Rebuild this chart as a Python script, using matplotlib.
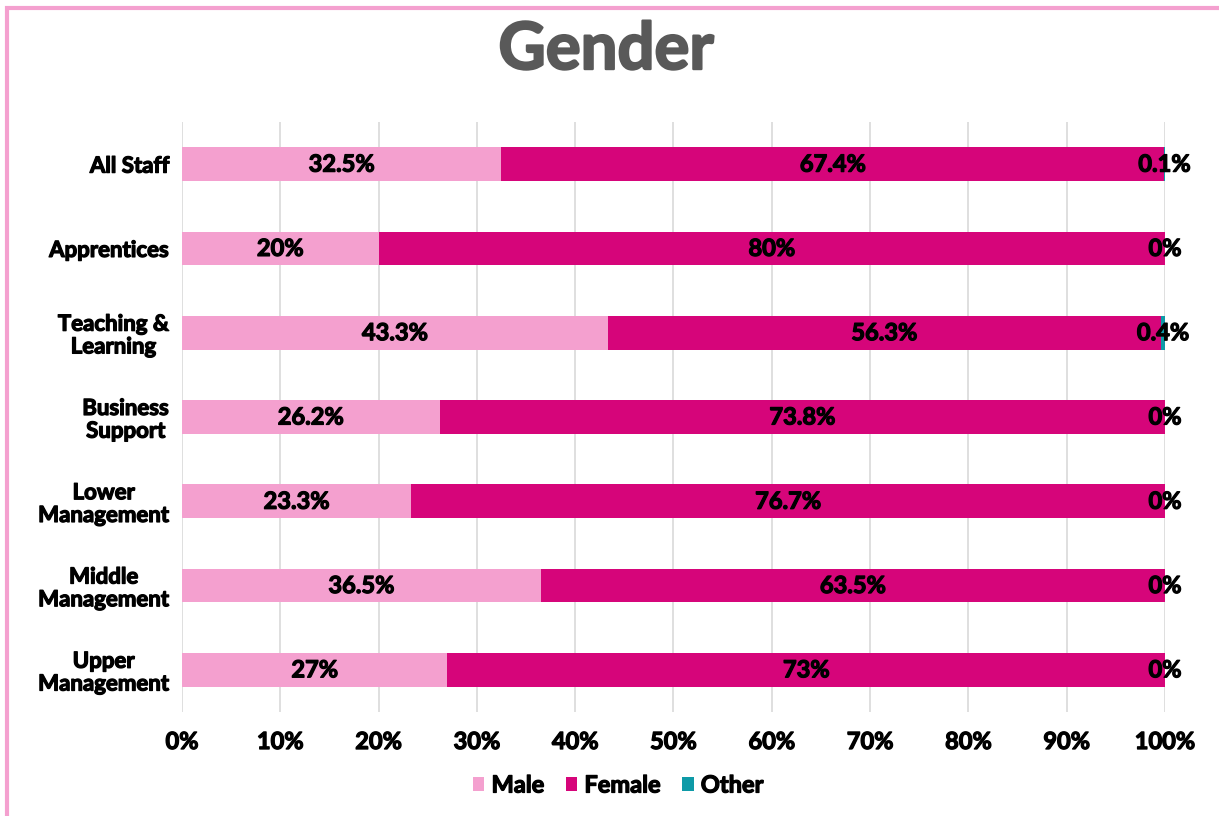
import matplotlib.pyplot as plt
import matplotlib.patheffects as pe
from matplotlib.patches import Rectangle
import numpy as np

plt.rcParams['font.family'] = ['Lato', 'DejaVu Sans']

categories = ['All Staff', 'Apprentices', 'Teaching &\nLearning', 'Business\nSupport',
              'Lower\nManagement', 'Middle\nManagement', 'Upper\nManagement']
male = [32.5, 20, 43.3, 26.2, 23.3, 36.5, 27]
female = [67.4, 80, 56.3, 73.8, 76.7, 63.5, 73]
other = [0.1, 0, 0.4, 0, 0, 0, 0]

male_labels = ['32.5%', '20%', '43.3%', '26.2%', '23.3%', '36.5%', '27%']
female_labels = ['67.4%', '80%', '56.3%', '73.8%', '76.7%', '63.5%', '73%']
other_labels = ['0.1%', '0%', '0.4%', '0%', '0%', '0%', '0%']

c_male = '#F4A0CF'
c_female = '#D6057A'
c_other = '#0E9AA7'

fig = plt.figure(figsize=(12.19, 8.16), dpi=100)
ax = fig.add_axes([0.1493, 0.1275, 0.8064, 0.723])

y = np.arange(len(categories))
male = np.array(male)
female = np.array(female)
other = np.array(other)

ax.barh(y, male, height=0.4, color=c_male, label='Male', zorder=2)
ax.barh(y, female, left=male, height=0.4, color=c_female, label='Female', zorder=2)
ax.barh(y, other, left=male + female, height=0.4, color=c_other, label='Other', zorder=2)

# thicken the strokes a bit, the original font is heavier than Lato Bold
heavy = [pe.withStroke(linewidth=0.9, foreground='black')]
heavy_grey = [pe.withStroke(linewidth=1.6, foreground='#595959')]

W = 'bold'
lab_kw = dict(ha='center', va='center', fontsize=17, fontweight=W, color='black', zorder=3,
              path_effects=heavy)
for i in range(len(categories)):
    ax.text(male[i] / 2, y[i], male_labels[i], **lab_kw)
    ax.text(male[i] + female[i] / 2, y[i], female_labels[i], **lab_kw)
    ax.text(male[i] + female[i] + other[i] / 2, y[i], other_labels[i], **lab_kw)

ax.set_xlim(0, 100)
ax.set_ylim(len(categories) - 0.5, -0.5)
ax.set_xticks(np.arange(0, 101, 10))
ax.set_xticklabels([f'{v}%' for v in range(0, 101, 10)], fontsize=17, fontweight=W)
ax.set_yticks(y)
ax.set_yticklabels(categories, fontsize=16, fontweight=W, linespacing=1.1)
for lbl in ax.get_yticklabels() + ax.get_xticklabels():
    lbl.set_multialignment('center')
    lbl.set_path_effects(heavy)
ax.tick_params(axis='x', length=0, pad=13)
ax.tick_params(axis='y', length=0, pad=9)
ax.grid(axis='x', color='#D9D9D9', linewidth=1.2, zorder=0)
for s in ax.spines.values():
    s.set_visible(False)

fig.text(0.497, 0.938, 'Gender', ha='center', va='center', fontsize=47,
         fontweight=W, color='#595959', path_effects=heavy_grey)

leg = fig.legend(loc='center', bbox_to_anchor=(0.507, 0.038), ncol=3, frameon=False,
                 handlelength=0.5, handleheight=0.5, handletextpad=0.3,
                 columnspacing=0.9, prop={'weight': W, 'size': 17})
for t in leg.get_texts():
    t.set_path_effects(heavy)

fig.patches.append(Rectangle((7 / 1219, -0.1), 1.2, 1 - 8 / 816 + 0.1, transform=fig.transFigure,
                             fill=False, edgecolor='#F4A0CF', linewidth=3, figure=fig))

fig.savefig('out.png', dpi=100)
